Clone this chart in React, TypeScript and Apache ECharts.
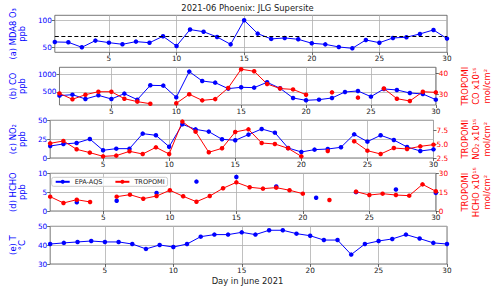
import React, { useEffect, useRef } from "react";
import * as echarts from "echarts";

const days = ["1","2","3","4","5","6","7","8","9","10","11","12","13","14","15","16","17","18","19","20","21","22","23","24","25","26","27","28","29","30"];

const o3Aqs = [60.4,59.8,50.6,62.8,59.1,56.1,61,59,70.7,53,83,79,69.5,56,100,75.6,65.9,67.7,65.2,58,56,51.2,48.8,64,59,67.7,69,75,82.3,66.5];
const o3Standard = 70;

const coAqs = [394,423,298,404,298,452,279,692,683,346,1087,817,769,596,635,625,779,606,327,260,279,327,500,529,365,587,558,471,442,279];
const coTropomi = [30.6,27.8,30.0,31.4,31.4,28.1,26.7,25.7,null,25.9,30.2,27.3,27.9,33.2,42.1,41.1,35.1,32.9,32.5,30.0,null,31.1,null,28.6,null,32.9,28.1,27.0,31.4,31.1];

const no2Aqs = [15.9,18.6,19.9,25.2,10.2,12.4,12.4,32.3,30.1,15,44.7,38,35,24.8,23.5,31,38.5,33.6,13.3,8,11.1,11.9,14.2,31.4,21.7,30.1,23.9,14.6,9.3,11.5];
const no2Tropomi = [5.18,5.61,4.09,3.48,2.80,2.93,3.72,3.23,4.45,3.23,9.15,7.32,3.54,4.27,7.26,7.74,5.24,5.06,4.27,2.80,null,3.78,null,5.55,3.84,3.23,4.33,4.15,4.63,4.94];

const hchoAqs = [null,null,2.3,null,null,2.7,null,null,4.8,null,null,7.8,null,null,9.0,null,null,6.5,null,null,3.5,null,null,5.0,null,null,5.7,null,null,4.8];
const hchoTropomi = [11.4,6.4,9.0,7.2,null,11.4,13.0,9.8,11.9,16.5,11.7,7.4,11.9,18.1,22.8,18.9,17.8,18.6,16.5,13.8,null,8.8,null,15.4,12.7,13.8,12.7,12.2,21.2,15.7];

const tempAqs = [40.6,41.2,41.7,42.2,41.7,41.7,40.6,38.0,40.1,39.0,40.6,44.5,45.6,45.6,46.8,45.6,47.9,47.9,46.1,45.0,42.7,42.7,35.0,40.6,42.2,43.3,45.6,43.5,41.2,40.6];

const leftTicks = [[50, 100], [500, 1000], [0, 25, 50], [0, 5, 10], [30, 40, 50]];
const rightTicks = [null, [30, 40], [2.5, 5.0, 7.5], [0, 15, 30], null];
const leftRange = [[41.5, 109], [125, 1211], [0, 50], [0, 10], [30, 50]];
const rightRange = [null, [25.1, 43.0], [2.5, 9.39], [0, 30], null];
const leftNames = ["(a) MDA8 O₃\nppb", "(b) CO\nppb", "(c) NO₂\nppb", "(d) HCHO\nppb", "(e) T\n°C"];
const rightNames = [null, "TROPOMI\nCO x10¹⁵\nmol/cm²", "TROPOMI\nNO₂ x10¹⁵\nmol/cm²", "TROPOMI\nHCHO x10¹⁵\nmol/cm²", null];
const titleText = "2021-06 Phoenix: JLG Supersite";
const xName = "Day in June 2021";

const FONT = "DejaVu Sans";
const BLUE = "#0000ff";
const RED = "#ff0000";
const tops = [15.3, 67.3, 120.3, 173.3, 226.3];
const heights = [37, 37.7, 37.7, 37.7, 37.7];

export default function App() {
  const ref = useRef<HTMLDivElement>(null);
  useEffect(() => {
    if (!ref.current) return;
    const chart = echarts.init(ref.current, null, { renderer: "svg" });
    const every5 = (_i: number, v: string) => Number(v) % 5 === 0;
    const grids = tops.map((t, i) => ({
      left: 47.7, right: 53, top: t, height: heights[i],
      show: true, borderColor: "#555", borderWidth: 0.8, backgroundColor: "transparent",
    }));
    const xAxes = tops.map((_, i) => ({
      type: "category", gridIndex: i, data: days, boundaryGap: false,
      axisLine: { show: false },
      axisTick: { show: true, interval: every5, length: 3, lineStyle: { color: "#444", width: 0.8 } },
      axisLabel: { interval: every5, fontSize: 7.3, color: "#222", margin: 3, fontFamily: FONT },
      splitLine: { show: true, interval: every5, lineStyle: { color: "#b0b0b0", width: 0.8 } },
    }));
    const yAxes: any[] = [];
    const rightIdx: number[] = [];
    tops.forEach((_, i) => {
      yAxes.push({
        type: "value", gridIndex: i, position: "left",
        min: leftRange[i][0], max: leftRange[i][1],
        axisLine: { show: false },
        axisTick: { show: true, customValues: leftTicks[i], length: 3, lineStyle: { color: "#444", width: 0.8 } },
        axisLabel: {
          customValues: leftTicks[i], fontSize: 7.3, color: BLUE, margin: 3, fontFamily: FONT,
          formatter: (v: number) => String(v),
        },
        splitLine: { show: true, customValues: leftTicks[i], lineStyle: { color: "#b0b0b0", width: 0.8 } },
        name: leftNames[i], nameLocation: "middle", nameGap: 18, nameRotate: 90,
        nameTextStyle: { color: BLUE, fontSize: 8.4, fontFamily: FONT, lineHeight: 9.5 },
      });
    });
    tops.forEach((_, i) => {
      if (!rightRange[i]) { rightIdx.push(-1); return; }
      rightIdx.push(yAxes.length);
      const rt = rightTicks[i] as number[];
      yAxes.push({
        type: "value", gridIndex: i, position: "right",
        min: (rightRange[i] as number[])[0], max: (rightRange[i] as number[])[1],
        axisLine: { show: false },
        axisTick: { show: true, customValues: rt, length: 3, lineStyle: { color: "#444", width: 0.8 } },
        axisLabel: {
          customValues: rt, fontSize: 7.3, color: RED, margin: 3, fontFamily: FONT,
          formatter: (v: number) => (i === 2 ? v.toFixed(1) : String(v)),
        },
        splitLine: { show: false },
        name: rightNames[i], nameLocation: "middle", nameGap: i === 1 ? 17 : 22, nameRotate: 90,
        nameTextStyle: { color: RED, fontSize: 8.4, fontFamily: FONT, lineHeight: 11 },
      });
    });
    const lineS = (name: string, color: string, data: any[], xi: number, yi: number, extra: any = {}) => ({
      type: "line", name, data, xAxisIndex: xi, yAxisIndex: yi,
      symbol: "circle", symbolSize: 4.5, showSymbol: true, showAllSymbol: true,
      connectNulls: false, itemStyle: { color }, lineStyle: { color, width: 1 },
      ...extra,
    });
    const series: any[] = [
      lineS("EPA-AQS", BLUE, o3Aqs, 0, 0, {
        markLine: {
          symbol: "none", silent: true, label: { show: false },
          lineStyle: { color: "#000", type: [4, 2.5], width: 1.2 },
          data: [{ yAxis: o3Standard }],
        },
      }),
      lineS("EPA-AQS", BLUE, coAqs, 1, 1),
      lineS("TROPOMI", RED, coTropomi, 1, rightIdx[1]),
      lineS("EPA-AQS", BLUE, no2Aqs, 2, 2),
      lineS("TROPOMI", RED, no2Tropomi, 2, rightIdx[2]),
      lineS("EPA-AQS", BLUE, hchoAqs, 3, 3),
      lineS("TROPOMI", RED, hchoTropomi, 3, rightIdx[3]),
      lineS("EPA-AQS", BLUE, tempAqs, 4, 4),
    ];
    chart.setOption({
      animation: false,
      textStyle: { fontFamily: FONT },
      grid: grids,
      xAxis: xAxes,
      yAxis: yAxes,
      series,
      legend: {
        data: ["EPA-AQS", "TROPOMI"], left: 51.7, top: 177.3, orient: "horizontal",
        itemWidth: 14, itemHeight: 5, itemGap: 12, padding: [1, 3],
        borderColor: "#ccc", borderWidth: 1, borderRadius: 2, backgroundColor: "rgba(255,255,255,0.8)",
        textStyle: { fontSize: 6.5, color: "#222", fontFamily: FONT },
      },
      graphic: [
        { type: "text", x: 247.5, y: 8, style: { text: titleText, fill: "#222", font: `8.4px ${FONT}`, textAlign: "center", textVerticalAlign: "middle" } },
        { type: "text", x: 247.5, y: 280.7, style: { text: xName, fill: "#222", font: `8.4px ${FONT}`, textAlign: "center", textVerticalAlign: "middle" } },
      ],
    });
    return () => chart.dispose();
  }, []);
  return <div ref={ref} style={{ width: 500, height: 291, position: "absolute", left: 0, top: 0 }} />;
}
